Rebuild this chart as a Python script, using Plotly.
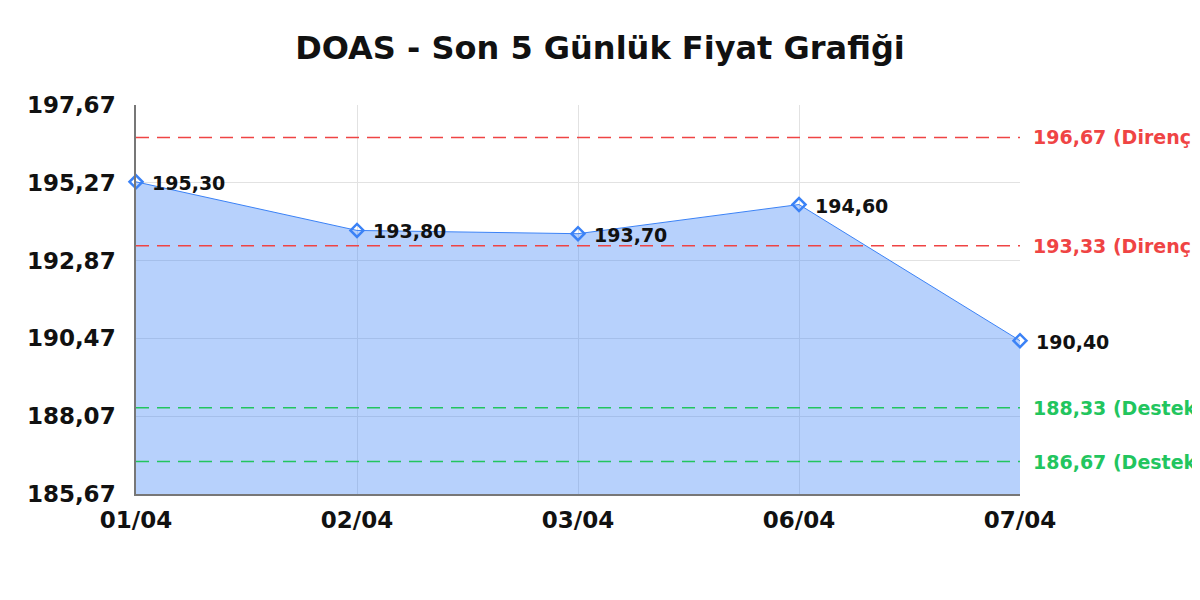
import plotly.graph_objects as go

# Fiyat verisi
dates = ["01/04", "02/04", "03/04", "06/04", "07/04"]
prices = [195.30, 193.80, 193.70, 194.60, 190.40]

# Destek / direnç seviyeleri
resistance = [196.67, 193.33]
support = [188.33, 186.67]

y_ticks = [185.67, 188.07, 190.47, 192.87, 195.27, 197.67]

font_family = "DejaVu Sans"


def tr_num(v):
    return ("%.2f" % v).replace(".", ",")


fig = go.Figure()

fig.add_trace(go.Scatter(
    x=dates, y=prices,
    mode="lines+markers",
    fill="tozeroy",
    fillcolor="rgba(59,130,246,0.37)",
    line=dict(color="#3b82f6", width=1),
    marker=dict(symbol="diamond-open", size=10, color="#3b82f6", line=dict(width=2.5)),
    cliponaxis=False,
    showlegend=False,
))

# değer etiketleri
for d, p in zip(dates, prices):
    fig.add_annotation(x=d, y=p, text=tr_num(p), showarrow=False,
                       xanchor="left", yanchor="middle", xshift=14, yshift=-1,
                       font=dict(family=font_family, size=19, color="#111111", weight="bold"))

for lvl in resistance:
    fig.add_hline(y=lvl, line=dict(color="#ef4444", width=1.5, dash="13px,8px"))
    fig.add_annotation(x=1, xref="paper", y=lvl, yref="y", xshift=11,
                       text=tr_num(lvl) + " (Direnç)",
                       showarrow=False, xanchor="left",
                       font=dict(family=font_family, size=19, color="#ef4444", weight="bold"))

for lvl in support:
    fig.add_hline(y=lvl, line=dict(color="#22c55e", width=1.5, dash="13px,8px"))
    fig.add_annotation(x=1, xref="paper", y=lvl, yref="y", xshift=11,
                       text=tr_num(lvl) + " (Destek)",
                       showarrow=False, xanchor="left",
                       font=dict(family=font_family, size=19, color="#22c55e", weight="bold"))

fig.update_layout(
    width=1200, height=600,
    separators=",.",
    plot_bgcolor="white", paper_bgcolor="white",
    margin=dict(l=128, r=188, t=97, b=114),
    title=dict(text="DOAS - Son 5 Günlük Fiyat Grafiği", x=0.4933, xanchor="center",
               y=0.933, yanchor="middle",
               font=dict(family=font_family, size=32, color="#111111", weight="bold")),
    font=dict(family=font_family),
)

fig.update_xaxes(
    showgrid=True, gridcolor="#e2e2e2", gridwidth=1,
    showline=True, linecolor="#777777", linewidth=1.5,
    range=[0, 4], ticks="", ticklabelstandoff=5,
    tickfont=dict(family=font_family, size=23, color="#111111", weight="bold"),
)
fig.update_yaxes(
    range=[185.67, 197.67], tickvals=y_ticks, tickformat=".2f",
    showgrid=True, gridcolor="#e2e2e2", gridwidth=1,
    showline=True, linecolor="#777777", linewidth=1.5,
    ticks="", zeroline=False, ticklabelstandoff=14,
    tickfont=dict(family=font_family, size=23, color="#111111", weight="bold"),
)

fig.write_html("out.html")
